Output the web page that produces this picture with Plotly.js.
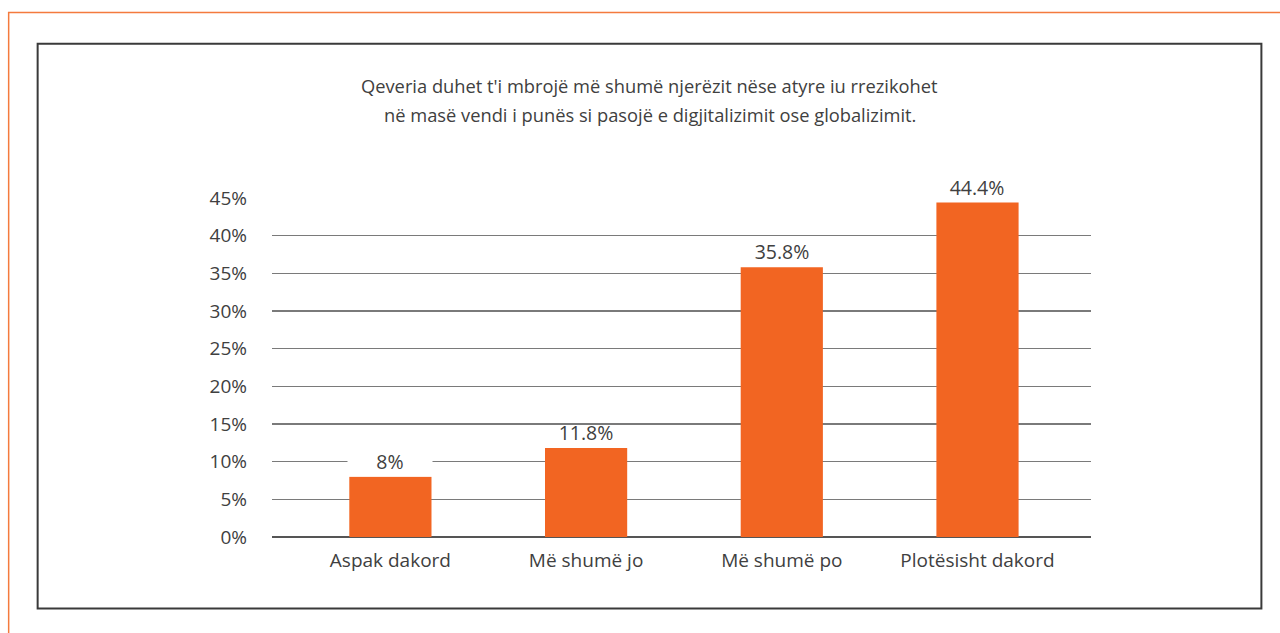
<!DOCTYPE html>
<html><head><meta charset="utf-8">
<script src="https://cdn.plot.ly/plotly-3.0.1.min.js"></script>
<style>html,body{margin:0;padding:0;background:#fff;} #chart{width:1280px;height:633px;}</style>
</head><body><div id="chart"></div>
<script>
const categories = ['Aspak dakord', 'Më shumë jo', 'Më shumë po', 'Plotësisht dakord'];
const values = [8, 11.8, 35.8, 44.4];
const valueLabels = ['8%', '11.8%', '35.8%', '44.4%'];
const yTickVals = [0, 5, 10, 15, 20, 25, 30, 35, 40, 45];
const yTickText = ['0%', '5%', '10%', '15%', '20%', '25%', '30%', '35%', '40%', '45%'];
const titleLines = [
  "Qeveria duhet t'i mbrojë më shumë njerëzit nëse atyre iu rrezikohet",
  "në masë vendi i punës si pasojë e digjitalizimit ose globalizimit."
];

const W = 1280, H = 633;
const M = {l: 272, r: 188.5, t: 197.5, b: 95.7};
const pw = W - M.l - M.r, ph = H - M.t - M.b;
function px(x) { return (x - M.l) / pw; }
function py(y) { return (H - M.b - y) / ph; }

const TXT = '#404040';
const FONT = '"Open Sans", "Noto Sans", sans-serif';

const trace = {
  type: 'bar',
  x: categories,
  y: values,
  width: 0.42,
  marker: {color: '#F26522'},
  hoverinfo: 'none'
};

const annotations = [];
titleLines.forEach((t, i) => {
  annotations.push({
    text: t, showarrow: false, xref: 'paper', yref: 'paper',
    x: px(650), y: py(85 + i * 29), xanchor: 'center', yanchor: 'middle',
    font: {family: FONT, size: 18.3, color: TXT}
  });
});
values.forEach((v, i) => {
  annotations.push({
    text: valueLabels[i], showarrow: false, xref: 'x', yref: 'y',
    x: categories[i], y: v, xanchor: 'center', yanchor: 'bottom', yshift: 0,
    width: 82, bgcolor: i === 0 ? '#ffffff' : 'rgba(0,0,0,0)',
    font: {family: FONT, size: 19.5, color: TXT}
  });
});

const shapes = [
  {type: 'rect', xref: 'paper', yref: 'paper', x0: px(8.5), x1: px(1300), y0: py(11.5), y1: py(660),
   line: {color: '#F47A3D', width: 1.5}, fillcolor: 'rgba(0,0,0,0)', layer: 'below'},
  {type: 'rect', xref: 'paper', yref: 'paper', x0: px(37.5), x1: px(1262), y0: py(43), y1: py(609),
   line: {color: '#3a3a3a', width: 2}, fillcolor: 'rgba(0,0,0,0)', layer: 'below'}
];

const layout = {
  width: W, height: H,
  margin: M,
  paper_bgcolor: '#ffffff', plot_bgcolor: '#ffffff',
  showlegend: false,
  font: {family: FONT, color: TXT},
  xaxis: {
    type: 'category', range: [-0.605, 3.58],
    showgrid: false, zeroline: false, showline: false, ticks: '',
    tickfont: {family: FONT, size: 19, color: TXT},
    ticklabelstandoff: 10, fixedrange: true
  },
  yaxis: {
    range: [0, 45], tickvals: yTickVals, ticktext: yTickText,
    showgrid: true, gridcolor: '#7a7a7a', gridwidth: 1.5,
    zeroline: true, zerolinecolor: '#555555', zerolinewidth: 1.5,
    showline: false, ticks: '',
    tickfont: {family: FONT, size: 19, color: TXT},
    ticklabelstandoff: 24, fixedrange: true
  },
  annotations: annotations,
  shapes: shapes
};

Plotly.newPlot('chart', [trace], layout, {displayModeBar: false, staticPlot: true});
</script>
</body></html>
